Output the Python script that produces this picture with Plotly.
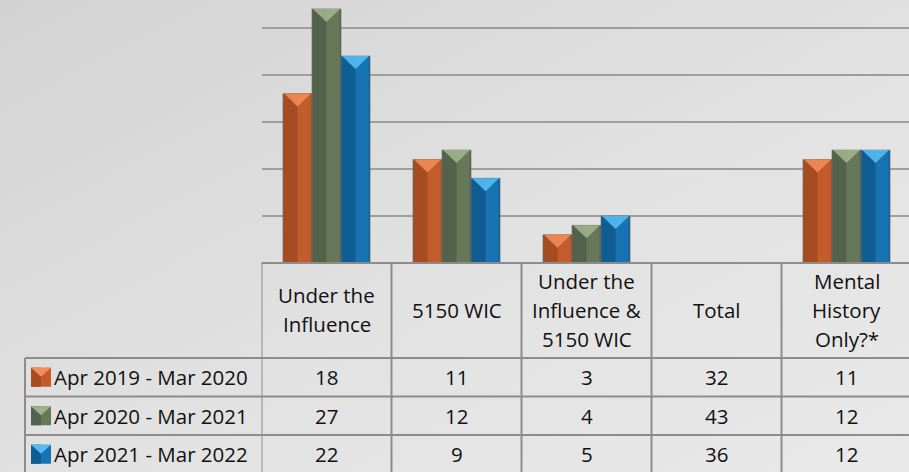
import base64
import plotly.graph_objects as go

# ---------------- data ----------------
categories = ["Under the Influence", "5150 WIC", "Under the Influence & 5150 WIC",
              "Total", "Mental History Only?*"]
header_lines = [["Under the", "Influence"], ["5150 WIC"],
                ["Under the", "Influence &", "5150 WIC"], ["Total"],
                ["Mental", "History", "Only?*"]]
series_names = ["Apr 2019 - Mar 2020", "Apr 2020 - Mar 2021", "Apr 2021 - Mar 2022"]
vals_2019 = [18, 11, 3, 32, 11]
vals_2020 = [27, 12, 4, 43, 12]
vals_2021 = [22, 9, 5, 36, 12]
charted = [True, True, True, False, True]   # Total column is not drawn as bars

series_values = [vals_2019, vals_2020, vals_2021]

# ---------------- style ----------------
W, H = 909, 472
plot_left = 261.5
cat_w = 130.0
baseline = 263.0
px_per_unit = 9.41
bargap = 0.33
dark = ["#A54C22", "#53624A", "#105D94"]
main = ["#C35B2B", "#66775A", "#1773B2"]
light = ["#F28C55", "#A0B28C", "#55BBF3"]
grid_col = "#9E9E9E"
border_col = "#8C8C8C"
text_col = "#111111"
FONT = "Open Sans"
FS = 20.5

header_top = baseline
header_bot = 358.0
row_h = 38.5
label_left = 25.0


def py(y):
    return 1 - y / H


def px(x):
    return x / W


fig = go.Figure()

# gradient background (svg data uri)
svg = ('<svg xmlns="http://www.w3.org/2000/svg" width="909" height="472">'
       '<defs><linearGradient id="g" x1="0" y1="0" x2="1" y2="1">'
       '<stop offset="0" stop-color="#d3d3d3"/><stop offset="0.55" stop-color="#e2e2e2"/>'
       '<stop offset="1" stop-color="#e9e9e9"/></linearGradient></defs>'
       '<rect width="909" height="472" fill="url(#g)"/></svg>')
src = "data:image/svg+xml;base64," + base64.b64encode(svg.encode()).decode()
fig.add_layout_image(dict(source=src, xref="paper", yref="paper", x=0, y=1,
                          sizex=1, sizey=1, sizing="stretch", layer="below"))

ncat = len(categories)
idx = list(range(ncat))
w = (1 - bargap) / 3

for j, (name, vals) in enumerate(zip(series_names, series_values)):
    yv = [v if c else None for v, c in zip(vals, charted)]
    fig.add_trace(go.Bar(x=idx, y=yv, name=name, marker=dict(
        color=dark[j], line=dict(color="rgba(110,110,110,0.6)", width=1)),
        showlegend=False, hoverinfo="skip"))
    for c in idx:
        if not charted[c]:
            continue
        v = vals[c]
        center = c + (j - 1) * w
        left, right = center - w / 2, center + w / 2
        # lighter right half (bevel)
        fig.add_shape(type="rect", xref="x", yref="y", x0=center, x1=right - 0.01,
                      y0=0, y1=v, fillcolor=main[j], line=dict(width=0), layer="above")
        # top triangle highlight
        tip = v - 13 / px_per_unit
        fig.add_shape(type="path", xref="x", yref="y",
                      path=f"M {left + 0.008},{v} L {right - 0.008},{v} L {center},{tip} Z",
                      fillcolor=light[j], line=dict(width=0), layer="above", opacity=0.9)

# ---------------- table ----------------
line = dict(color=border_col, width=2)
n_rows = len(series_names)
row_tops = [header_bot + i * row_h for i in range(n_rows + 1)]
table_bottom = header_bot + n_rows * row_h

# vertical lines between category columns
for c in range(ncat + 1):
    fig.add_shape(type="line", xref="x", yref="paper", x0=c - 0.5, x1=c - 0.5,
                  y0=py(header_top), y1=py(table_bottom), line=line, layer="above")
# header top
fig.add_shape(type="line", xref="paper", yref="paper", x0=px(plot_left), x1=1,
              y0=py(header_top), y1=py(header_top), line=line, layer="above")
# row lines (including row label column)
for yy in row_tops:
    fig.add_shape(type="line", xref="paper", yref="paper", x0=px(label_left), x1=1,
                  y0=py(yy), y1=py(yy), line=line, layer="above")
# left border of row labels
fig.add_shape(type="line", xref="paper", yref="paper", x0=px(label_left), x1=px(label_left),
              y0=py(header_bot), y1=py(table_bottom), line=line, layer="above")

# header text
line_step = 29
for c, lines in enumerate(header_lines):
    n = len(lines)
    mid = (header_top + header_bot) / 2 - 1
    for k, t in enumerate(lines):
        yy = mid + (k - (n - 1) / 2) * line_step
        fig.add_annotation(x=c, xref="x", y=py(yy), yref="paper", text=t, showarrow=False,
                           xanchor="center", yanchor="middle",
                           font=dict(family=FONT, size=FS, color=text_col))

# rows
for r, (name, vals) in enumerate(zip(series_names, series_values)):
    yc = row_tops[r] + row_h / 2
    # legend key
    kx0, kx1 = 31, 51
    ky0, ky1 = yc - 9.5, yc + 9.5
    fig.add_shape(type="rect", xref="paper", yref="paper", x0=px(kx0), x1=px(kx1),
                  y0=py(ky1), y1=py(ky0), fillcolor=main[r], line=dict(width=0), layer="above")
    fig.add_shape(type="rect", xref="paper", yref="paper", x0=px(kx0), x1=px((kx0 + kx1) / 2),
                  y0=py(ky1), y1=py(ky0), fillcolor=dark[r], line=dict(width=0), layer="above")
    fig.add_shape(type="path", xref="paper", yref="paper",
                  path=f"M {px(kx0)},{py(ky0)} L {px(kx1)},{py(ky0)} L {px((kx0 + kx1) / 2)},{py(ky0 + 9)} Z",
                  fillcolor=light[r], line=dict(width=0), layer="above")
    fig.add_annotation(x=px(52), xref="paper", y=py(yc), yref="paper", text=name,
                       showarrow=False, xanchor="left", yanchor="middle",
                       font=dict(family=FONT, size=FS, color=text_col))
    for c, v in enumerate(vals):
        fig.add_annotation(x=c, xref="x", y=py(yc), yref="paper", text=str(v),
                           showarrow=False, xanchor="center", yanchor="middle",
                           font=dict(family=FONT, size=FS, color=text_col))

fig.update_layout(
    width=W, height=H,
    margin=dict(l=0, r=0, t=0, b=0),
    paper_bgcolor="#e2e2e2",
    plot_bgcolor="rgba(0,0,0,0)",
    barmode="group", bargap=bargap, bargroupgap=0,
    showlegend=False,
    hovermode=False,
    xaxis=dict(domain=[px(plot_left), 1], range=[-0.5, -0.5 + (W - plot_left) / cat_w],
               showticklabels=False, showgrid=False, zeroline=False, ticks=""),
    yaxis=dict(domain=[py(baseline), 1], range=[0, baseline / px_per_unit],
               tick0=0, dtick=5, showticklabels=False, showgrid=True,
               gridcolor=grid_col, gridwidth=1.5, zeroline=False, ticks=""),
)

fig.write_html("out.html", config={"displayModeBar": False, "staticPlot": True},
               post_script="document.body.style.margin='0';document.body.style.overflow='hidden';")
